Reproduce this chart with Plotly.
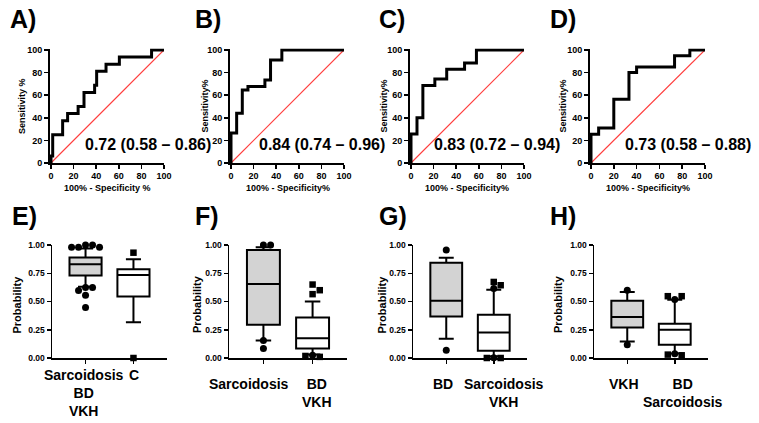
import plotly.graph_objects as go

W, H = 759, 423

# ---------------- ROC data (x = 100% - specificity, y = sensitivity) -------------
roc_a_fpr = [0, 0, 1.5, 10.3, 14.7, 24.0, 29.2, 38.6, 40.4, 48.7, 60.5, 89.0, 100]
roc_a_tpr = [0, 6.25, 25.0, 37.5, 43.75, 50.0, 62.5, 68.75, 81.25, 87.5, 93.75, 100, 100]
roc_b_fpr = [0, 0, 5, 10, 15, 30, 35, 45, 100]
roc_b_tpr = [0, 26.5, 44.1, 64.7, 67.6, 73.5, 91.2, 100, 100]
roc_c_fpr = [0, 0, 5.3, 10.5, 21.1, 31.6, 47.4, 57.9, 100]
roc_c_tpr = [0, 25.7, 40.0, 68.6, 74.3, 82.9, 88.6, 100, 100]
roc_d_fpr = [0, 0, 6.7, 20.0, 33.3, 40.0, 73.3, 86.7, 100]
roc_d_tpr = [0, 25.5, 31.0, 56.5, 80.0, 85.0, 95.0, 100, 100]
roc_auc = ["0.72 (0.58 – 0.86)", "0.84 (0.74 – 0.96)", "0.83 (0.72 – 0.94)", "0.73 (0.58 – 0.88)"]
roc_ytitles = ["Sensitivity %", "Sensitivity%", "Sensitivity%", "Sensitivity%"]
roc_xtitles = ["100% - Specificity %", "100% - Specificity%", "100% - Specificity%", "100% - Specificity%"]
roc_ticks = [0, 20, 40, 60, 80, 100]

# ---------------- Box plot data: [q1, median, q3, lower whisker, upper whisker] ---------
box_e_labels = ["Sarcoidosis<br>BD<br>VKH", "C"]
box_e_stats = [[0.73, 0.83, 0.89, 0.63, 0.97], [0.545, 0.735, 0.785, 0.317, 0.873]]
box_e_circ1 = [1.0, 1.0, 0.98, 0.98, 0.98, 0.624, 0.624, 0.598, 0.556, 0.447]
box_e_circ2 = []
box_e_sq2 = [0.932, 0.0]

box_f_labels = ["Sarcoidosis", "BD<br>VKH"]
box_f_stats = [[0.294, 0.655, 0.955, 0.155, 0.98], [0.085, 0.174, 0.359, 0.03, 0.50]]
box_f_circ1 = [1.0, 1.0, 0.155, 0.085]
box_f_circ2 = [0.025]
box_f_sq2 = [0.65, 0.60, 0.565, 0.01, 0.018]

box_g_labels = ["BD", "Sarcoidosis<br>VKH"]
box_g_stats = [[0.368, 0.506, 0.844, 0.17, 0.888], [0.065, 0.226, 0.382, 0.015, 0.603]]
box_g_circ1 = [0.955, 0.068]
box_g_circ2 = [0.615, 0.003]
box_g_sq2 = [0.673, 0.644, 0.0, 0.0]

box_h_labels = ["VKH", "BD<br>Sarcoidosis"]
box_h_stats = [[0.271, 0.362, 0.506, 0.147, 0.585], [0.118, 0.25, 0.303, 0.04, 0.515]]
box_h_circ1 = [0.60, 0.118]
box_h_circ2 = [0.518, 0.038]
box_h_sq2 = [0.547, 0.547, 0.024, 0.03]

box_ticks = [0, 0.25, 0.5, 0.75, 1.0]
panel_letters = ["A)", "B)", "C)", "D)", "E)", "F)", "G)", "H)"]

# ---------------- layout geometry (pixels) ----------------
roc_x_px = [(51, 164), (231, 344), (411, 524), (591, 705)]
roc_y_px = (50, 163)
box_x_px = [(52, 167), (229, 347), (413, 527), (594, 708)]
box_y_px = (245, 358)
letter_px = [(8, 19), (193, 19), (377, 19), (548, 19), (10, 216), (193, 216), (377, 216), (548, 216)]
roc_ytitle_x = [22.5, 205, 384, 563]
box_ytitle_x = [16, 196.5, 381, 557.5]
cat_label_top = [365, 374, 374, 374]          # px, top of first label line
cat_label_shift = [(-2, 1), (-14, 4), (-3.5, 10), (-3.5, 8.5)]
BOX_XR = [-0.7, 1.7]
PAD = 1.5  # px of extra room so the thick ROC line is not clipped

FONT = "Arial, Liberation Sans, sans-serif"


def xd(a, b):
    return [a / W, b / W]


def yd(top, bot):
    return [1 - bot / H, 1 - top / H]


fig = go.Figure()
layout = dict(
    width=W, height=H, margin=dict(l=0, r=0, t=0, b=0, pad=0), autosize=False,
    paper_bgcolor="white", plot_bgcolor="white", showlegend=False,
    font=dict(family=FONT, color="black"), hovermode=False,
)
annotations = []

axis_common = dict(
    showline=True, linecolor="black", linewidth=1.5, ticks="outside", ticklen=4,
    tickwidth=1.5, tickcolor="black", showgrid=False, zeroline=False, automargin=False,
    tickangle=0, fixedrange=True,
    tickfont=dict(family=FONT, size=9, color="black", weight="bold"),
)

rocs = [(roc_a_fpr, roc_a_tpr), (roc_b_fpr, roc_b_tpr), (roc_c_fpr, roc_c_tpr), (roc_d_fpr, roc_d_tpr)]
auc_x = [28, 22.7, 18.2, 28.2]
for i, (fx, ty) in enumerate(rocs):
    n = i + 1
    xa = "x" if n == 1 else f"x{n}"
    ya = "y" if n == 1 else f"y{n}"
    key_x = "xaxis" if n == 1 else f"xaxis{n}"
    key_y = "yaxis" if n == 1 else f"yaxis{n}"
    x0, x1 = roc_x_px[i]
    y0, y1 = roc_y_px
    upx = 100.0 / (x1 - x0)
    upy = 100.0 / (y1 - y0)
    layout[key_x] = dict(axis_common, domain=xd(x0 - PAD, x1), anchor=ya,
                         range=[-PAD * upx, 100], tickvals=roc_ticks)
    layout[key_y] = dict(axis_common, domain=yd(y0 - PAD, y1), anchor=xa,
                         range=[0, 100 + PAD * upy], tickvals=roc_ticks)
    fig.add_trace(go.Scatter(x=[0, 100], y=[0, 100], mode="lines", xaxis=xa, yaxis=ya,
                             line=dict(color="rgb(255,60,60)", width=1.2)))
    fig.add_trace(go.Scatter(x=fx, y=ty, mode="lines", xaxis=xa, yaxis=ya, cliponaxis=False,
                             line=dict(color="black", width=3, shape="hv")))
    annotations.append(dict(text=roc_auc[i], x=auc_x[i], y=16.8, xref=xa, yref=ya,
                            xanchor="left", yanchor="middle", showarrow=False,
                            font=dict(size=16, weight="bold", color="black")))
    annotations.append(dict(text=roc_ytitles[i], x=roc_ytitle_x[i] / W,
                            y=1 - (sum(roc_y_px) / 2) / H, xref="paper", yref="paper",
                            textangle=-90, showarrow=False, xanchor="center", yanchor="middle",
                            font=dict(size=9, weight="bold", color="black")))
    annotations.append(dict(text=roc_xtitles[i], x=(sum(roc_x_px[i]) / 2) / W,
                            y=1 - 188 / H, xref="paper", yref="paper", showarrow=False,
                            xanchor="center", yanchor="middle",
                            font=dict(size=9, weight="bold", color="black")))

# beeswarm-like spreading of points (pixel space)
PX_X = 48.0
PX_Y = (box_y_px[1] - box_y_px[0])
DIAM = 7.0


def swarm(vals, placed):
    res = []
    cands = [0]
    for k in range(1, 8):
        cands += [k, -k]
    for v in vals:
        dx = 0
        for c in cands:
            dx = c * DIAM
            ok = all((dx - px) ** 2 + ((v - pv) * PX_Y) ** 2 >= (DIAM * 0.93) ** 2
                     for px, pv in placed)
            if ok:
                break
        placed.append((dx, v))
        res.append(dx / PX_X)
    return res


boxes = [
    (box_e_labels, box_e_stats, box_e_circ1, box_e_circ2, box_e_sq2),
    (box_f_labels, box_f_stats, box_f_circ1, box_f_circ2, box_f_sq2),
    (box_g_labels, box_g_stats, box_g_circ1, box_g_circ2, box_g_sq2),
    (box_h_labels, box_h_stats, box_h_circ1, box_h_circ2, box_h_sq2),
]
fills = ["rgb(211,211,211)", "white"]
for i, (labels, stats, c1, c2, s2) in enumerate(boxes):
    n = i + 5
    xa, ya = f"x{n}", f"y{n}"
    layout[f"xaxis{n}"] = dict(axis_common, domain=xd(*box_x_px[i]), anchor=ya, range=BOX_XR,
                               tickvals=[0, 1], showticklabels=False)
    layout[f"yaxis{n}"] = dict(axis_common, domain=yd(*box_y_px), anchor=xa, range=[0, 1],
                               tickvals=box_ticks, tickformat=".2f",
                               tickfont=dict(family=FONT, size=8.5, color="black", weight="bold"))
    for g in range(2):
        q1, med, q3, lo, hi = stats[g]
        fig.add_trace(go.Box(x=[g], q1=[q1], median=[med], q3=[q3], lowerfence=[lo],
                             upperfence=[hi], xaxis=xa, yaxis=ya, width=0.67,
                             whiskerwidth=0.47, fillcolor=fills[g], boxpoints=False,
                             line=dict(color="black", width=2)))
        annotations.append(dict(text=labels[g], x=g, xref=xa, xshift=cat_label_shift[i][g],
                                y=1 - cat_label_top[i] / H, yref="paper", xanchor="center",
                                yanchor="top", align="center", showarrow=False,
                                font=dict(size=14, weight="bold", color="black")))
    p1 = []
    off1 = swarm(c1, p1)
    fig.add_trace(go.Scatter(x=[0 + o for o in off1], y=c1, mode="markers", xaxis=xa, yaxis=ya,
                             cliponaxis=False,
                             marker=dict(symbol="circle", size=7, color="black")))
    p2 = []
    off2c = swarm(c2, p2)
    off2s = swarm(s2, p2)
    if c2:
        fig.add_trace(go.Scatter(x=[1 + o for o in off2c], y=c2, mode="markers", xaxis=xa,
                                 yaxis=ya, cliponaxis=False,
                                 marker=dict(symbol="circle", size=7, color="black")))
    fig.add_trace(go.Scatter(x=[1 + o for o in off2s], y=s2, mode="markers", xaxis=xa,
                             yaxis=ya, cliponaxis=False,
                             marker=dict(symbol="square", size=6.5, color="black")))
    annotations.append(dict(text="Probability", x=box_ytitle_x[i] / W,
                            y=1 - (sum(box_y_px) / 2 + 3) / H, xref="paper", yref="paper",
                            textangle=-90, showarrow=False, xanchor="center", yanchor="middle",
                            font=dict(size=11, weight="bold", color="black")))

for j, (lx, ly) in enumerate(letter_px):
    annotations.append(dict(text=panel_letters[j], x=lx / W, y=1 - ly / H, xref="paper",
                            yref="paper", xanchor="left", yanchor="middle", showarrow=False,
                            font=dict(size=25, weight="bold", color="black")))

layout["annotations"] = annotations
fig.update_layout(**layout)
fig.write_html(
    "out.html",
    config={"displayModeBar": False, "staticPlot": True},
    post_script="document.body.style.margin='0px';document.body.style.padding='0px';"
                "document.documentElement.style.overflow='hidden';",
)
